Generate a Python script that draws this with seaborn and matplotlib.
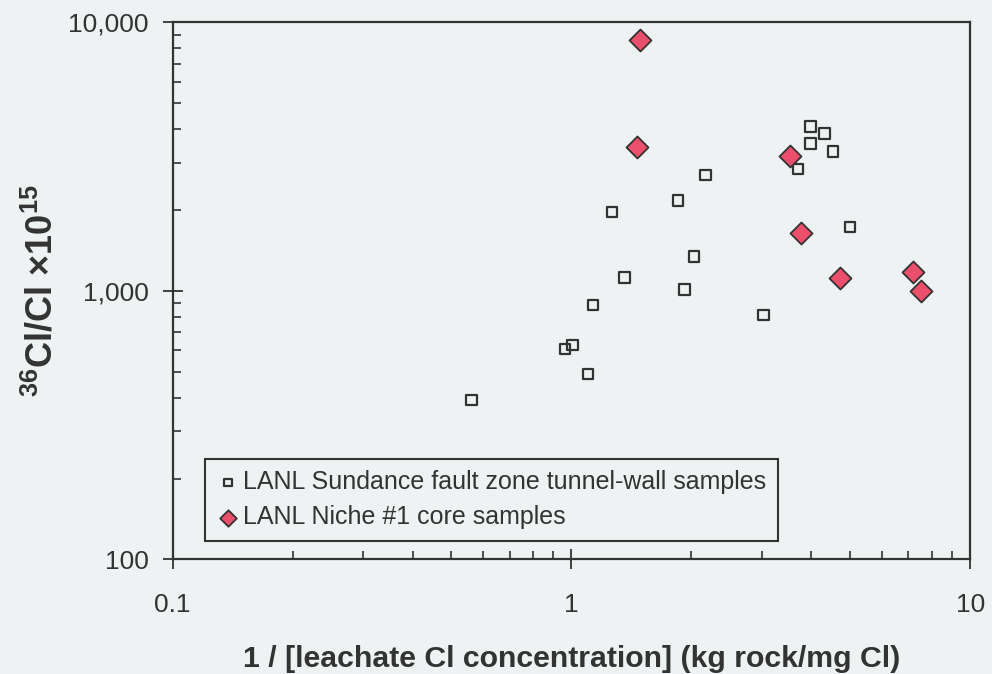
import numpy as np
import pandas as pd
import matplotlib
matplotlib.use('Agg')
import matplotlib.pyplot as plt
import matplotlib.ticker as mticker
import seaborn as sns

# LANL Sundance fault zone tunnel-wall samples
wall_x = [0.562, 0.963, 1.007, 1.10, 1.134, 1.265, 1.36, 1.85, 1.92, 2.03,
          2.17, 3.03, 3.70, 3.98, 3.98, 4.31, 4.52, 4.99]
wall_y = [393, 607, 628, 490, 885, 1969, 1121, 2169, 1011, 1342,
          2704, 814, 2840, 4093, 3538, 3854, 3302, 1731]

# LANL Niche #1 core samples
niche_x = [1.485, 1.457, 3.54, 3.76, 4.71, 7.17, 7.51]
niche_y = [8610, 3417, 3164, 1635, 1115, 1174, 1000]

wall_label = 'LANL Sundance fault zone tunnel-wall samples'
niche_label = 'LANL Niche #1 core samples'

wall = pd.DataFrame({'x': wall_x, 'y': wall_y})
niche = pd.DataFrame({'x': niche_x, 'y': niche_y})

bg = '#eef2f2'
ink = '#333333'

sns.set_style('ticks')
plt.rcParams['font.family'] = ['Liberation Sans', 'DejaVu Sans']
plt.rcParams['mathtext.fontset'] = 'custom'
plt.rcParams['mathtext.rm'] = 'Liberation Sans'
plt.rcParams['mathtext.bf'] = 'Liberation Sans:bold'

fig = plt.figure(figsize=(9.92, 6.74), dpi=100, facecolor=bg)
ax = fig.add_axes([0.174, 0.170, 0.804, 0.797], facecolor=bg)

sns.scatterplot(x='x', y='y', data=wall, marker='s', s=55, facecolor='none',
                edgecolor=ink, linewidth=1.6, label=wall_label, ax=ax, zorder=3)
sns.scatterplot(x='x', y='y', data=niche, marker='D', s=125, color='#ec4f6b',
                edgecolor=ink, linewidth=1.3, label=niche_label, ax=ax, zorder=4)

ax.set_xscale('log')
ax.set_yscale('log')
ax.set_xlim(0.1, 10)
ax.set_ylim(100, 10000)

ax.xaxis.set_major_formatter(mticker.FuncFormatter(lambda v, p: f'{v:g}'))
ax.yaxis.set_major_formatter(mticker.FuncFormatter(lambda v, p: f'{v:,.0f}'))
ax.xaxis.set_minor_locator(mticker.LogLocator(base=10, subs=np.arange(2, 10)))
ax.yaxis.set_minor_locator(mticker.LogLocator(base=10, subs=np.arange(2, 10)))
ax.xaxis.set_minor_formatter(mticker.NullFormatter())
ax.yaxis.set_minor_formatter(mticker.NullFormatter())

ax.tick_params(which='major', direction='inout', length=14, width=1.3,
               color=ink, labelsize=19, labelcolor=ink)
ax.tick_params(axis='x', which='major', pad=17)
ax.tick_params(axis='y', which='major', pad=10)
ax.tick_params(which='minor', direction='in', length=6, width=1.2, color=ink)

for side in ax.spines.values():
    side.set_color(ink)
    side.set_linewidth(1.6)

ax.set_xlabel('1 / [leachate Cl concentration] (kg rock/mg Cl)',
              fontsize=21.8, fontweight='bold', color=ink, labelpad=20)
ax.set_ylabel(r'$^{\mathbf{36}}$Cl/Cl ×10$^{\mathbf{15}}$',
              fontsize=26, fontweight='bold', color=ink, labelpad=6)

leg = ax.legend(loc='lower left', bbox_to_anchor=(0.04, 0.035), borderaxespad=0,
                fontsize=18, frameon=True, fancybox=False, handletextpad=0.1,
                handlelength=1.0, markerscale=0.75, borderpad=0.45,
                labelspacing=0.45, labelcolor=ink)
leg.get_frame().set_edgecolor(ink)
leg.get_frame().set_linewidth(1.5)
leg.get_frame().set_facecolor(bg)
leg.get_frame().set_alpha(1)

fig.savefig('out.png', dpi=100, facecolor=bg)
